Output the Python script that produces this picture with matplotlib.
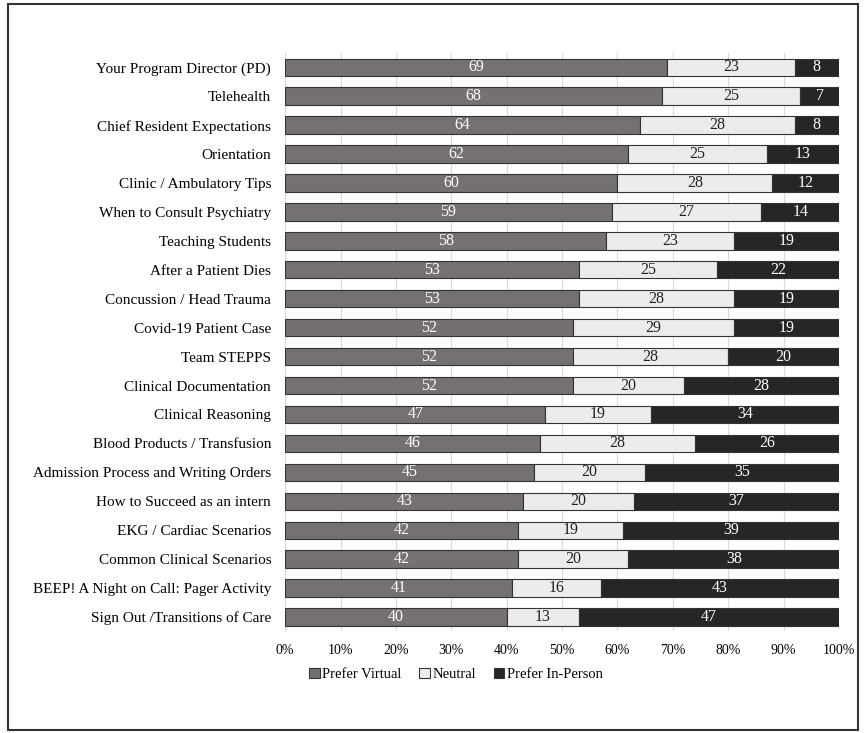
import numpy as np
import matplotlib
matplotlib.use('Agg')
import matplotlib.pyplot as plt
from matplotlib.patches import Rectangle

plt.rcParams['font.family'] = ['Liberation Serif', 'DejaVu Serif']

# datos, de arriba hacia abajo
temas = ['Your Program Director (PD)', 'Telehealth', 'Chief Resident Expectations',
         'Orientation', 'Clinic / Ambulatory Tips', 'When to Consult Psychiatry',
         'Teaching Students', 'After a Patient Dies', 'Concussion / Head Trauma',
         'Covid-19 Patient Case', 'Team STEPPS', 'Clinical Documentation',
         'Clinical Reasoning', 'Blood Products / Transfusion',
         'Admission Process and Writing Orders', 'How to Succeed as an intern',
         'EKG / Cardiac Scenarios', 'Common Clinical Scenarios',
         'BEEP! A Night on Call: Pager Activity', 'Sign Out /Transitions of Care']
virtual = [69, 68, 64, 62, 60, 59, 58, 53, 53, 52, 52, 52, 47, 46, 45, 43, 42, 42, 41, 40]
neutral = [23, 25, 28, 25, 28, 27, 23, 25, 28, 29, 28, 20, 19, 28, 20, 20, 19, 20, 16, 13]
presencial = [8, 7, 8, 13, 12, 14, 19, 22, 19, 19, 20, 28, 34, 26, 35, 37, 39, 38, 43, 47]

series = [('Prefer Virtual', virtual, '#767171', 'white'),
          ('Neutral', neutral, '#ececec', '#222222'),
          ('Prefer In-Person', presencial, '#262626', 'white')]

fig = plt.figure(figsize=(8.64, 7.33), dpi=100)
ax = fig.add_axes([0.33, 0.1385, 0.641, 0.7895])

y = np.arange(len(temas))
left = np.zeros(len(temas))
tot = np.array(virtual) + np.array(neutral) + np.array(presencial)
for nombre, vals, color, tcolor in series:
    vals = np.array(vals, dtype=float)
    frac = vals / tot
    bars = ax.barh(y, frac, left=left, height=0.6, color=color,
                   edgecolor='#333333', linewidth=0.8, label=nombre, zorder=3)
    for b, v in zip(bars, vals):
        ax.text(b.get_x() + b.get_width() / 2, b.get_y() + b.get_height() / 2,
                '%d' % v, ha='center', va='center', color=tcolor, fontsize=11.5, zorder=4)
    left += frac

ax.set_yticks(y)
ax.set_yticklabels(temas, fontsize=11)
ax.set_ylim(len(temas) - 0.5, -0.5)
ax.set_xlim(0, 1)
ax.set_xticks(np.arange(0, 1.01, 0.1))
ax.set_xticklabels(['%d%%' % round(v * 100) for v in np.arange(0, 1.01, 0.1)], fontsize=10)
ax.grid(axis='x', color='#d9d9d9', linewidth=0.8, zorder=0)
ax.tick_params(axis='y', length=0, pad=10)
ax.tick_params(axis='x', length=0, pad=9)
for s in ['top', 'right', 'bottom']:
    ax.spines[s].set_visible(False)
ax.spines['left'].set_color('#d9d9d9')

ax.legend(loc='upper left', bbox_to_anchor=(0.02, -0.04), ncol=3, frameon=False,
          fontsize=10.5, handlelength=0.7, handleheight=0.7, handletextpad=0.2,
          columnspacing=1.2)

# marco alrededor de la figura
fig.patches.append(Rectangle((0.009, 0.004), 0.984, 0.99, transform=fig.transFigure,
                             fill=False, edgecolor='#333333', linewidth=1.5))

plt.savefig('out.png', dpi=100)
